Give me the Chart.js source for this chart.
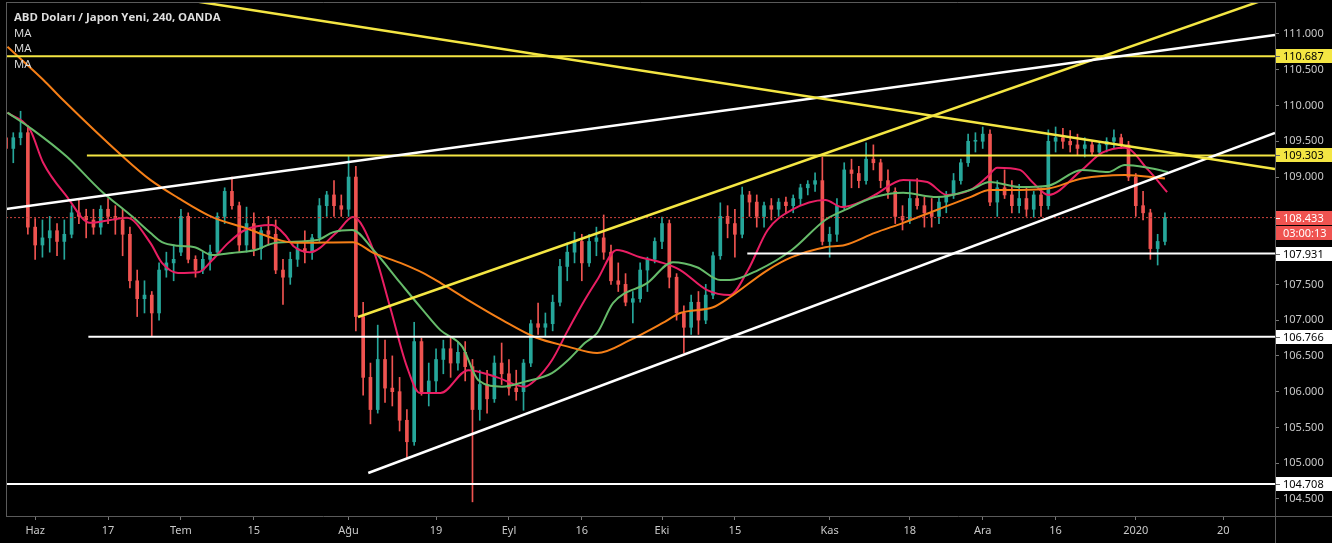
<!DOCTYPE html>
<html>
<head>
<meta charset="utf-8">
<title>ABD Doları / Japon Yeni, 240, OANDA</title>
<script src="https://cdn.jsdelivr.net/npm/chart.js@4.4.1/dist/chart.umd.min.js"></script>
<style>
  html, body { margin: 0; padding: 0; background: #000; }
  #wrap { width: 1332px; height: 543px; position: relative; }
</style>
</head>
<body>
<div id="wrap"><canvas id="chart"></canvas></div>
<script>
/* --------------- Candles: one per trading day, day 0 = 3 Haz --------------- */
const firstDay = -4;
const opens = [
  109.55,109.40,109.55,109.62,108.30,108.05,108.15,108.25,108.10,108.20,
  108.50,108.45,108.40,108.30,108.55,108.45,108.40,108.20,107.55,107.30,
  107.35,107.10,107.70,107.80,107.95,108.45,107.85,107.70,107.85,107.95,
  108.45,108.80,108.60,108.05,108.35,108.00,108.25,108.20,107.70,107.60,
  107.85,108.00,107.95,108.15,108.60,108.75,108.60,108.55,109.00,107.05,
  106.20,105.75,106.45,106.05,106.00,105.60,105.30,106.70,106.00,106.15,
  106.45,106.60,106.40,106.55,106.35,105.75,106.10,105.90,106.40,106.25,
  106.05,106.00,106.40,106.95,106.90,106.95,107.25,107.75,107.95,108.10,
  107.80,108.10,108.15,107.95,107.55,107.50,107.25,107.30,107.70,107.85,
  108.10,108.35,107.60,107.10,106.90,107.25,107.00,107.35,107.90,108.45,
  108.35,108.20,108.75,108.65,108.45,108.60,108.55,108.65,108.60,108.70,
  108.85,108.90,108.95,108.10,108.20,108.60,109.10,109.05,108.95,109.25,
  109.20,108.95,108.80,108.45,108.40,108.70,108.60,108.50,108.45,108.65,
  108.75,108.95,109.20,109.50,109.50,109.60,108.65,108.85,108.75,108.60,
  108.70,108.55,108.75,108.60,109.50,109.55,109.50,109.45,109.40,109.45,
  109.35,109.45,109.50,109.55,109.45,109.00,108.60,108.50,108.00,108.10
];
const highs = [
  109.70,109.62,109.92,109.72,108.42,108.40,108.45,108.35,108.40,108.60,
  108.70,108.55,108.55,108.60,108.70,108.60,108.55,108.30,107.70,107.55,
  107.40,107.80,107.95,108.05,108.55,108.50,107.90,107.95,108.05,108.50,
  108.85,109.00,108.65,108.58,108.50,108.30,108.45,108.40,107.85,107.95,
  108.10,108.25,108.20,108.70,108.80,108.95,108.75,109.30,109.15,107.25,
  106.40,106.93,106.72,106.50,106.20,105.75,106.97,106.75,106.40,106.60,
  106.72,106.75,106.70,106.70,106.45,106.30,106.30,106.50,106.68,106.45,
  106.30,106.45,107.00,107.24,107.10,107.35,107.85,108.08,108.23,108.20,
  108.20,108.30,108.47,108.05,107.80,107.65,107.40,107.80,107.88,108.15,
  108.44,108.40,107.65,107.20,107.35,107.40,107.50,107.95,108.64,108.60,
  108.55,108.86,108.80,108.75,108.65,108.70,108.70,108.72,108.75,108.90,
  108.95,109.06,109.28,108.30,108.70,109.20,109.25,109.15,109.48,109.45,
  109.25,109.10,108.85,108.60,108.95,108.98,108.72,108.70,108.72,108.80,
  109.05,109.25,109.60,109.62,109.70,109.66,108.95,109.10,108.95,108.90,
  108.85,108.80,108.85,109.66,109.70,109.68,109.65,109.60,109.55,109.50,
  109.50,109.55,109.66,109.60,109.50,109.05,108.80,108.55,108.20,108.50
];
const lows = [
  109.28,109.20,109.45,108.20,107.85,107.88,107.95,107.90,107.85,108.15,
  108.35,108.15,108.20,108.20,108.35,108.20,107.90,107.45,107.05,107.10,
  106.78,107.00,107.60,107.55,107.90,107.80,107.60,107.65,107.70,107.90,
  108.35,108.55,107.95,107.95,107.90,107.85,108.05,107.65,107.22,107.50,
  107.75,107.80,107.85,108.10,108.45,108.45,108.45,108.45,106.85,105.95,
  105.55,105.70,105.85,105.80,105.45,105.08,105.25,105.95,105.80,106.00,
  106.25,106.20,106.30,106.15,104.46,105.60,105.70,105.85,106.10,105.95,
  105.88,105.74,106.35,106.80,106.78,106.85,107.20,107.55,107.80,107.55,
  107.75,107.90,107.85,107.50,107.40,107.20,106.96,107.25,107.40,107.80,
  108.00,107.45,107.00,106.54,106.80,106.80,106.95,107.30,107.85,108.15,
  107.88,108.15,108.45,108.30,108.30,108.40,108.45,108.50,108.50,108.60,
  108.75,108.80,108.05,107.88,108.10,108.55,108.85,108.85,108.90,109.10,
  108.85,108.70,108.35,108.26,108.35,108.55,108.30,108.30,108.35,108.50,
  108.70,108.90,109.15,109.35,109.40,108.60,108.45,108.70,108.50,108.50,
  108.45,108.44,108.45,108.55,109.35,109.40,109.35,109.30,109.28,109.30,
  109.30,109.35,109.40,109.40,108.95,108.45,108.40,107.85,107.77,108.05
];
const closes = [
  109.40,109.55,109.62,108.30,108.05,108.15,108.25,108.10,108.20,108.50,
  108.45,108.40,108.30,108.55,108.45,108.40,108.20,107.55,107.30,107.35,
  107.10,107.70,107.80,107.85,108.45,107.85,107.70,107.85,107.95,108.45,
  108.80,108.60,108.05,108.35,108.00,108.25,108.20,107.70,107.60,107.85,
  108.00,107.95,108.15,108.60,108.75,108.60,108.55,109.00,107.05,106.20,
  105.75,106.45,106.05,106.00,105.60,105.30,106.70,106.00,106.15,106.45,
  106.60,106.40,106.55,106.35,105.75,106.10,105.90,106.40,106.25,106.05,
  106.00,106.40,106.95,106.90,106.95,107.25,107.75,107.95,108.10,107.80,
  108.10,108.15,107.95,107.55,107.50,107.25,107.30,107.70,107.85,108.10,
  108.35,107.60,107.10,106.90,107.25,107.00,107.35,107.90,108.45,108.35,
  108.20,108.75,108.65,108.45,108.60,108.55,108.65,108.60,108.70,108.85,
  108.90,108.95,108.10,108.20,108.60,109.10,109.05,108.95,109.25,109.20,
  108.95,108.80,108.45,108.40,108.70,108.60,108.50,108.45,108.65,108.75,
  108.95,109.20,109.50,109.50,109.60,108.65,108.85,108.75,108.60,108.70,
  108.55,108.75,108.60,109.50,109.55,109.50,109.45,109.40,109.45,109.35,
  109.45,109.50,109.55,109.45,109.00,108.60,108.50,108.00,108.10,108.433
];

const maFast = [
  [-3.8,109.90],[-0.7,109.66],[1.1,109.20],[4.4,108.72],[7.5,108.36],[10.3,108.40],
  [12.6,108.43],[15.8,108.08],[17.4,107.80],[19.6,107.66],[22.4,107.67],[24.3,107.84],
  [26.5,108.08],[28.8,108.26],[32.5,108.33],[34.3,108.19],[35.5,108.03],[37.7,107.95],
  [41.4,108.23],[43.6,108.44],[46.4,107.98],[48.7,107.18],[51.0,106.35],[52.8,105.98],
  [55.6,105.98],[59.4,106.30],[63.1,106.21],[67.2,106.07],[68.6,106.16],[70.9,106.44],
  [73.1,106.86],[75.4,107.28],[77.1,107.56],[79.8,107.98],[83.0,107.88],[86.1,107.80],
  [88.5,107.70],[92.2,107.42],[95.3,107.35],[97.8,107.70],[100.5,108.26],[103.8,108.54],
  [108.4,108.68],[110.7,108.58],[113.9,108.68],[115.2,108.75],[119.1,108.96],[122.4,108.93],
  [125.1,108.75],[128.3,108.82],[130.6,109.00],[132.0,109.13],[135.1,109.10],[136.8,108.93],
  [139.0,108.75],[143.6,109.10],[146.4,109.34],[149.5,109.41],[152.7,109.10],[155.3,108.79]
];
const maMid = [
  [-3.8,109.90],[-0.3,109.66],[4.4,109.28],[8.9,108.82],[13.4,108.44],[15.8,108.22],
  [17.4,108.09],[19.6,108.04],[21.9,108.02],[24.3,107.91],[27.0,107.94],[30.2,107.98],
  [32.9,108.08],[38.7,108.12],[40.9,108.23],[43.5,108.26],[46.4,107.98],[50.1,107.52],
  [53.2,107.14],[55.6,106.86],[58.6,106.63],[60.8,106.16],[64.1,106.07],[67.2,106.14],
  [70.9,106.26],[73.1,106.44],[75.4,106.68],[77.1,106.82],[79.3,107.24],[84.0,107.52],
  [87.5,107.81],[90.8,107.74],[94.0,107.56],[95.3,107.56],[99.2,107.70],[103.8,107.98],
  [108.4,108.40],[111.1,108.54],[115.2,108.72],[119.1,108.78],[123.7,108.72],[128.3,108.82],
  [131.0,108.93],[135.1,108.86],[139.0,108.88],[143.6,109.10],[147.2,109.07],[149.5,109.17],
  [152.7,109.13],[155.4,109.07]
];
const maSlow = [
  [-3.8,110.82],[1.1,110.36],[3.8,110.08],[12.1,109.28],[15.8,108.96],[19.6,108.71],
  [24.3,108.44],[28.8,108.29],[32.5,108.15],[35.7,108.08],[43.6,108.09],[46.4,107.94],
  [50.1,107.80],[53.2,107.66],[55.6,107.52],[59.4,107.28],[64.1,107.00],[68.6,106.76],
  [73.1,106.63],[77.1,106.54],[81.6,106.72],[86.1,106.96],[88.5,107.10],[93.0,107.18],
  [95.3,107.32],[100.5,107.70],[103.8,107.88],[108.4,108.02],[111.1,108.05],[115.2,108.22],
  [119.1,108.36],[123.7,108.54],[128.3,108.72],[131.0,108.82],[135.1,108.82],[139.0,108.84],
  [143.6,108.98],[149.5,109.03],[155.0,108.98]
];

/* --------------- Axes --------------- */
const tickDays = [0, 10, 20, 30, 43, 55, 65, 75, 86, 96, 109, 120, 130, 140, 151, 163];
const tickLabels = ["Haz", "17", "Tem", "15", "Ağu", "19", "Eyl", "16", "Eki", "15", "Kas", "18", "Ara", "16", "2020", "20"];
const priceTicks = [104.5, 105, 105.5, 106, 106.5, 107, 107.5, 108, 108.5, 109, 109.5, 110, 110.5, 111];

/* --------------- Drawings: horizontal levels and trend lines --------------- */
const hLevels = [110.687, 109.303, 107.931, 106.766, 104.708];
const hFromDay = [-4, 7.1, 97.7, 7.3, -4];
// [day1, price1, day2, price2]
const trendLines = [
  [15.8, 111.555, 170.1, 109.113],   // yellow, falling
  [-4.0, 108.553, 170.1, 110.986],   // white, long rising
  [44.3, 107.044, 170.1, 111.531],   // yellow, channel top
  [45.7, 104.863, 170.1, 109.616]    // white, channel bottom
];
const countdown = "03:00:13";

/* --------------- Styles --------------- */
const UP = "#26a69a", DOWN = "#ef5350";
const YELLOW = "#f4e643", WHITE = "#ffffff";
const hColors = [YELLOW, YELLOW, WHITE, WHITE, WHITE];
const trendColors = [YELLOW, WHITE, YELLOW, WHITE];
const xMin = -4, xMax = 170.1;
const yMin = 104.262, yMax = 111.447;

/* --------------- Build datasets --------------- */
const days = opens.map((_, i) => firstDay + i);
const candleColors = days.map((_, i) => (closes[i] >= opens[i] ? UP : DOWN));
const lastClose = closes[closes.length - 1];
const boxedLevels = hLevels.concat([lastClose]);

const lineDs = (data, color, width, order, extra) => Object.assign({
  type: "line",
  data: data,
  borderColor: color,
  borderWidth: width,
  pointRadius: 0,
  fill: false,
  order: order
}, extra || {});

const datasets = [];
trendLines.forEach((t, i) => {
  datasets.push(lineDs([{ x: t[0], y: t[1] }, { x: t[2], y: t[3] }], trendColors[i], 2.5, 0));
});
hLevels.forEach((v, i) => {
  datasets.push(lineDs([{ x: hFromDay[i], y: v }, { x: xMax, y: v }], hColors[i], 2, 0));
});
datasets.push(lineDs([{ x: xMin, y: lastClose }, { x: xMax, y: lastClose }], "#d0443e", 1, 1, { borderDash: [2, 2] }));
const maStyle = { cubicInterpolationMode: "monotone" };
datasets.push(lineDs(maSlow.map(p => ({ x: p[0], y: p[1] })), "#f57f17", 2, 2, maStyle));
datasets.push(lineDs(maMid.map(p => ({ x: p[0], y: p[1] })), "#66bb6a", 2, 2, maStyle));
datasets.push(lineDs(maFast.map(p => ({ x: p[0], y: p[1] })), "#e91e63", 2, 2, maStyle));
datasets.push({
  type: "bar",
  data: days.map((d, i) => ({ x: d, y: [opens[i], closes[i]] })),
  backgroundColor: candleColors,
  barThickness: 3,
  minBarLength: 1,
  grouped: false,
  order: 3
});
datasets.push({
  type: "bar",
  data: days.map((d, i) => ({ x: d, y: [lows[i], highs[i]] })),
  backgroundColor: candleColors,
  barThickness: 1,
  grouped: false,
  order: 4
});

/* --------------- Price boxes, legend, separators --------------- */
const overlay = {
  id: "overlay",
  afterDraw(chart) {
    const { ctx, chartArea: a, scales: { y } } = chart;
    const W = chart.width, H = chart.height;
    ctx.save();
    ctx.strokeStyle = "#5a5a5a";
    ctx.lineWidth = 1;
    ctx.beginPath();
    ctx.moveTo(a.right + 0.5, a.bottom); ctx.lineTo(a.right + 0.5, H);
    ctx.moveTo(a.right, a.bottom + 0.5); ctx.lineTo(W, a.bottom + 0.5);
    ctx.moveTo(a.left + 0.5, a.top); ctx.lineTo(a.left + 0.5, a.bottom);
    ctx.moveTo(a.left, a.top + 0.5); ctx.lineTo(a.right, a.top + 0.5);
    ctx.stroke();

    ctx.font = '11px "Noto Sans"';
    ctx.textBaseline = "middle";
    ctx.textAlign = "left";
    const box = (v, bg, fg, txt, dy, mark) => {
      const py = Math.round(y.getPixelForValue(v)) + (dy || 0);
      ctx.fillStyle = bg;
      ctx.fillRect(a.right + 1, py - 7, W - a.right - 1, 14);
      if (mark) {
        ctx.fillStyle = mark;
        ctx.fillRect(a.right + 1, py, 4, 1);
      }
      ctx.fillStyle = fg;
      ctx.fillText(txt, a.right + 8, py + 1);
    };
    hLevels.forEach((v, i) => box(v, hColors[i], "#000", v.toFixed(3), 0, "#666"));
    box(lastClose, DOWN, "#fff", lastClose.toFixed(3), 0, "#fff");
    box(lastClose, DOWN, "#fff", countdown, 15);

    ctx.fillStyle = "#dedede";
    ctx.font = 'bold 11.4px "Open Sans"';
    ctx.fillText("ABD Doları / Japon Yeni, 240, OANDA", 14, 18);
    ctx.font = '11.4px "Open Sans"';
    ctx.fillText("MA", 14, 34);
    ctx.fillText("MA", 14, 49);
    ctx.fillText("MA", 14, 65);
    ctx.restore();
  }
};

/* --------------- Chart --------------- */
new Chart(document.getElementById("chart"), {
  type: "bar",
  data: { datasets: datasets },
  plugins: [overlay],
  options: {
    responsive: true,
    maintainAspectRatio: false,
    animation: false,
    layout: { padding: { left: 6, top: 2, right: 0, bottom: 0 } },
    plugins: { legend: { display: false }, tooltip: { enabled: false } },
    scales: {
      x: {
        type: "linear",
        min: xMin,
        max: xMax,
        offset: false,
        afterFit: s => { s.height = 27; s.paddingLeft = 0; s.paddingRight = 0; },
        afterBuildTicks: s => { s.ticks = tickDays.map(v => ({ value: v })); },
        grid: { display: true, drawOnChartArea: false, offset: false, tickLength: 4, color: "#777" },
        border: { display: true, color: "#5a5a5a" },
        ticks: {
          autoSkip: false,
          maxRotation: 0,
          padding: 4,
          color: "#c8c8c8",
          font: { family: "Noto Sans", size: 11 },
          callback: v => tickLabels[tickDays.indexOf(v)]
        }
      },
      y: {
        type: "linear",
        position: "right",
        min: yMin,
        max: yMax,
        afterFit: s => { s.width = 57; s.paddingTop = 0; s.paddingBottom = 0; },
        afterBuildTicks: s => { s.ticks = priceTicks.map(v => ({ value: v })); },
        grid: { display: true, drawOnChartArea: false, tickLength: 4, color: "#777" },
        border: { display: true, color: "#5a5a5a" },
        ticks: {
          padding: 4,
          color: "#c8c8c8",
          font: { family: "Noto Sans", size: 11 },
          // labels that would sit under a price box are left out, as on the original
          callback: v => (boxedLevels.some(b => Math.abs(b - v) < 0.12) ? "" : v.toFixed(3))
        }
      }
    }
  }
});
</script>
</body>
</html>
